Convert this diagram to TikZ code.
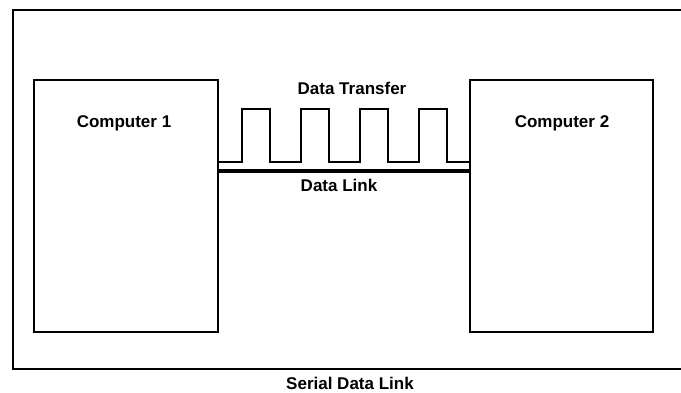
\documentclass[tikz,border=0pt]{standalone}
\usepackage{fontspec}
\setmainfont{Liberation Sans}
\usetikzlibrary{positioning}

\begin{document}
\begin{tikzpicture}[x=1pt,y=-1pt,
  pcbox/.style={draw,line width=2.4pt,minimum width=184pt,minimum height=252pt,inner sep=0pt},
  lbl/.style={font=\fontsize{17}{20}\selectfont\bfseries,inner sep=0pt},
  wire/.style={line width=2.4pt,line join=miter},
  link/.style={line width=3.6pt}
]
  \useasboundingbox (0,0) rectangle (681,392);
  % outer frame, open on the right
  \draw[line width=2.4pt] (681,10) -- (13,10) -- (13,369) -- (681,369);
  \node[pcbox] (pc1) at (126,206) {};
  \node[pcbox,minimum width=183pt] (pc2) at (561.5,206) {};
  \node[lbl] (pc1lbl) at (124,123) {Computer 1};
  \node[lbl] (pc2lbl) at (562,123) {Computer 2};
  % data link and pulse train
  \draw[link] ([yshift=35pt]pc1.east) -- ([yshift=35pt]pc2.west);
  \draw[wire] ([yshift=44pt]pc1.east)
    \foreach \x in {242,301,360,419} { -- (\x,162) -- (\x,109) -- (\x+28,109) -- (\x+28,162) }
    -- ([yshift=44pt]pc2.west);
  \node[lbl] (xferlbl) at (352,88) {Data Transfer};
  \node[lbl] (linklbl) at (339,185) {Data Link};
  \node[lbl] (title) at (350,383) {Serial Data Link};
\end{tikzpicture}
\end{document}
